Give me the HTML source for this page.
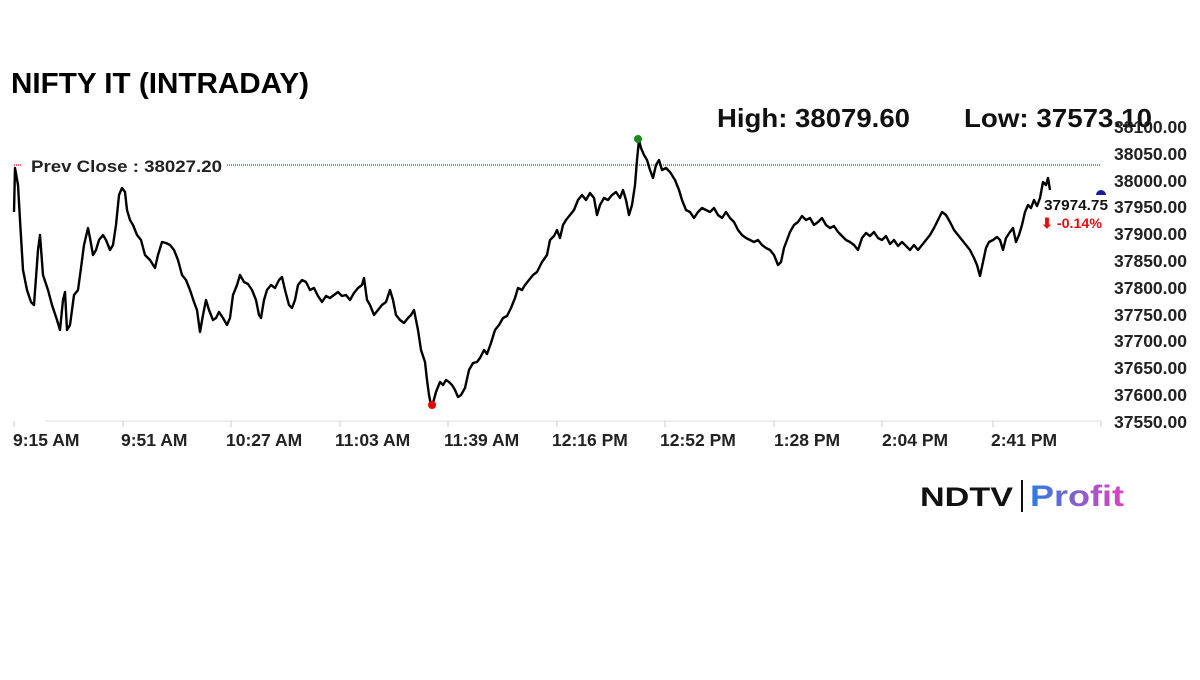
<!DOCTYPE html>
<html><head><meta charset="utf-8"><style>
body{margin:0;background:#fff;width:1200px;height:675px;overflow:hidden;font-family:"Liberation Sans",sans-serif}
</style></head><body>
<svg width="1200" height="675" xmlns="http://www.w3.org/2000/svg" font-family="Liberation Sans, sans-serif">
<text x="11" y="93" font-size="29" font-weight="bold" fill="#000" textLength="298" lengthAdjust="spacingAndGlyphs">NIFTY IT (INTRADAY)</text>
<text x="717" y="127" font-size="26" font-weight="bold" fill="#111" textLength="193" lengthAdjust="spacingAndGlyphs">High: 38079.60</text>
<text x="964" y="127" font-size="26" font-weight="bold" fill="#111" textLength="188" lengthAdjust="spacingAndGlyphs">Low: 37573.10</text>
<line x1="14" y1="165" x2="22" y2="165" stroke="#e00" stroke-dasharray="1,1" stroke-width="1.2"/>
<line x1="227" y1="165" x2="1101" y2="165" stroke="#e00" stroke-dasharray="1,1" stroke-width="1.2"/>
<text x="31" y="172" font-size="17" font-weight="bold" fill="#222" textLength="191" lengthAdjust="spacingAndGlyphs">Prev Close : 38027.20</text>
<g font-size="17.5" font-weight="bold" fill="#222" text-anchor="end">
<text x="1187" y="133">38100.00</text><text x="1187" y="160">38050.00</text><text x="1187" y="187">38000.00</text><text x="1187" y="213">37950.00</text><text x="1187" y="240">37900.00</text><text x="1187" y="267">37850.00</text><text x="1187" y="294">37800.00</text><text x="1187" y="321">37750.00</text><text x="1187" y="347">37700.00</text><text x="1187" y="374">37650.00</text><text x="1187" y="401">37600.00</text><text x="1187" y="428">37550.00</text>
</g>
<line x1="45" y1="421" x2="1101" y2="421" stroke="#ddd" stroke-width="1"/>
<g stroke="#ccc"><line x1="14" y1="421" x2="14" y2="427"/><line x1="123" y1="421" x2="123" y2="427"/><line x1="231" y1="421" x2="231" y2="427"/><line x1="340" y1="421" x2="340" y2="427"/><line x1="448" y1="421" x2="448" y2="427"/><line x1="557" y1="421" x2="557" y2="427"/><line x1="665" y1="421" x2="665" y2="427"/><line x1="774" y1="421" x2="774" y2="427"/><line x1="882" y1="421" x2="882" y2="427"/><line x1="993" y1="421" x2="993" y2="427"/><line x1="1101" y1="421" x2="1101" y2="427"/></g>
<g font-size="17.5" font-weight="bold" fill="#222">
<text x="13" y="446">9:15 AM</text><text x="121" y="446">9:51 AM</text><text x="226" y="446">10:27 AM</text><text x="335" y="446">11:03 AM</text><text x="444" y="446">11:39 AM</text><text x="552" y="446">12:16 PM</text><text x="660" y="446">12:52 PM</text><text x="774" y="446">1:28 PM</text><text x="882" y="446">2:04 PM</text><text x="991" y="446">2:41 PM</text>
</g>
<polyline fill="none" stroke="#000" stroke-width="2.4" stroke-linejoin="round" points="14,212 15,168 18,185 20,220 23,270 27,290 31,302 34,305 38,250 40,235 43,275 48,290 52,305 57,320 60,330 63,300 65,292 67,330 70,325 74,295 78,290 81,268 84,245 88,228 90,238 93,255 96,250 99,240 103,235 106,240 110,250 113,245 116,225 119,195 122,188 125,192 127,210 130,220 133,225 137,235 141,240 145,255 150,260 155,268 158,255 162,242 166,243 170,245 174,250 178,260 182,275 186,280 190,290 194,302 197,310 200,332 203,315 206,300 209,310 213,320 216,318 219,312 223,318 227,325 230,318 233,295 237,285 240,275 244,282 248,284 252,290 256,300 259,315 261,318 264,300 267,290 271,285 275,288 279,280 282,277 285,290 289,305 292,308 295,300 298,285 302,280 306,282 310,290 314,288 318,296 322,302 326,296 330,298 334,295 338,292 342,296 346,295 350,300 354,293 358,288 362,285 364,278 367,300 370,305 374,315 378,310 382,305 386,302 390,290 393,300 396,315 400,320 404,323 408,318 411,315 414,310 418,330 421,350 425,362 427,380 429,395 431,405 433,403 436,392 440,382 443,385 446,380 449,382 452,385 455,390 458,397 461,395 465,388 469,370 473,363 477,362 480,358 484,350 487,354 491,343 495,330 499,325 503,318 507,316 511,308 515,298 518,288 522,290 525,285 529,280 533,275 537,272 542,262 547,255 550,240 554,236 557,230 560,238 563,225 566,220 570,215 574,210 578,200 582,195 586,200 590,193 594,198 597,215 600,205 604,198 608,200 612,195 616,192 620,198 623,190 626,200 629,215 632,205 635,185 637,160 639,140 641,148 644,155 647,160 650,170 653,178 656,165 659,160 662,170 666,168 670,172 675,180 679,190 682,200 686,210 690,212 694,218 698,212 702,208 706,210 710,212 714,208 718,215 722,218 726,212 730,218 734,222 738,230 742,235 746,238 750,240 754,242 758,240 762,245 766,248 770,250 774,255 778,265 781,262 784,248 787,240 790,232 794,225 798,222 802,216 806,220 810,218 814,225 818,222 822,218 826,225 830,228 834,226 838,232 842,236 846,240 850,242 854,245 858,250 862,238 866,233 870,236 874,232 878,238 882,240 886,236 890,244 894,240 898,246 902,242 906,246 910,250 914,245 918,250 922,245 926,240 930,235 934,228 938,220 942,212 946,215 950,222 954,230 958,235 962,240 966,245 970,250 974,258 977,265 980,276 983,262 986,248 989,242 993,240 997,237 1000,240 1003,250 1006,238 1010,232 1013,228 1016,242 1019,235 1022,225 1025,212 1028,205 1031,208 1034,200 1037,206 1040,198 1043,182 1046,185 1048,178 1050,190"/>
<circle cx="638" cy="139" r="4" fill="#1a8a1a"/>
<circle cx="432" cy="405" r="4" fill="#e00"/>
<path d="M1096,195 A5,5 0 0 1 1106,195 Z" fill="#1a1aa0"/>
<text x="1044" y="210" font-size="15" font-weight="bold" fill="#111" textLength="64" lengthAdjust="spacingAndGlyphs">37974.75</text>
<text x="1041" y="228" font-size="14" font-weight="bold" fill="#e01010" textLength="61" lengthAdjust="spacingAndGlyphs">⬇ -0.14%</text>
<text x="920" y="506" font-size="27" font-weight="bold" fill="#111" textLength="93" lengthAdjust="spacingAndGlyphs">NDTV</text>
<line x1="1022" y1="480" x2="1022" y2="512" stroke="#111" stroke-width="2"/>
<defs><linearGradient id="g" x1="0" x2="1"><stop offset="0" stop-color="#2a7de1"/><stop offset="1" stop-color="#e040c0"/></linearGradient></defs>
<text x="1030" y="506" font-size="30" font-weight="bold" fill="url(#g)" textLength="94" lengthAdjust="spacingAndGlyphs">Profit</text>
</svg>
</body></html>
